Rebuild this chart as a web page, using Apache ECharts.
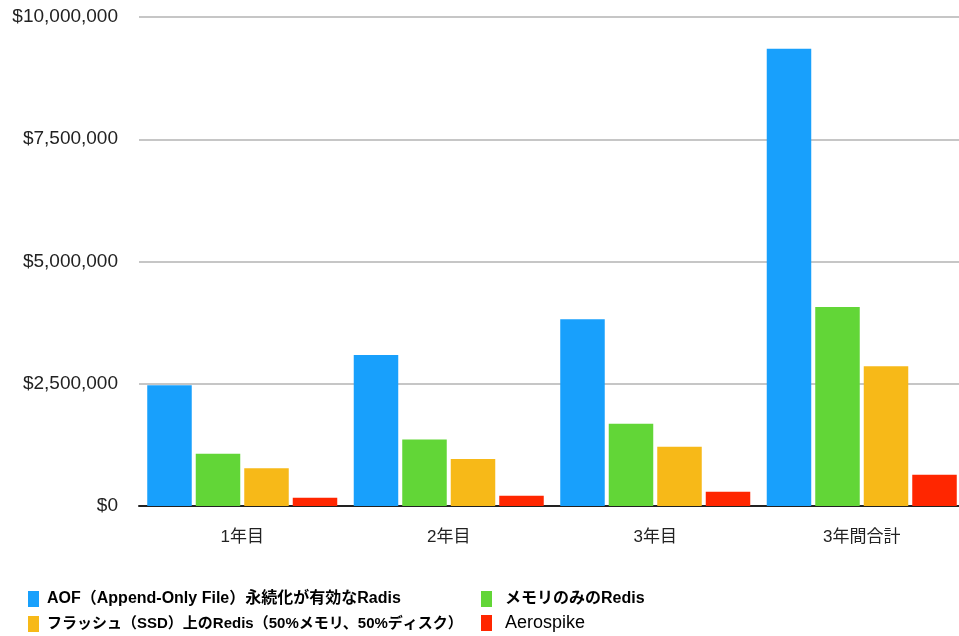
<!DOCTYPE html>
<html>
<head>
<meta charset="utf-8">
<title>chart</title>
<script src="https://cdn.jsdelivr.net/npm/echarts@6/dist/echarts.min.js"></script>
<style>
html, body { margin: 0; padding: 0; background: #fff; }
#main { width: 959px; height: 636px; }
</style>
</head>
<body>
<div id="main"></div>
<script>
// カテゴリ
var categories = ['1年目', '2年目', '3年目', '3年間合計'];
// 各シリーズの値 (USD)
var aofRedis = [2470000, 3090000, 3820000, 9350000];
var memRedis = [1070000, 1360000, 1680000, 4070000];
var flashRedis = [770000, 960000, 1210000, 2860000];
var aerospike = [170000, 210000, 290000, 640000];
var yTicks = [0, 2500000, 5000000, 7500000, 10000000];

var names = [
    'AOF（Append-Only File）永続化が有効なRadis',
    'メモリのみのRedis',
    'フラッシュ（SSD）上のRedis（50%メモリ、50%ディスク）',
    'Aerospike'
];
var colors = ['#18a0fc', '#62d637', '#f7b918', '#ff2600'];

var font = '"Liberation Sans", "Noto Sans CJK JP", sans-serif';

function money(v) {
    return '$' + v.toString().replace(/\B(?=(\d{3})+(?!\d))/g, ',');
}

function bar(name, data, color) {
    return {
        name: name,
        type: 'bar',
        barWidth: 44.5,
        barGap: '9%',
        itemStyle: { color: color },
        data: data
    };
}

// 凡例は1項目ずつ配置する
function legendItem(name, left, top, gap, size, bold) {
    return {
        left: left,
        top: top,
        itemWidth: 11,
        itemHeight: 16,
        itemGap: 9,
        icon: 'rect',
        textStyle: {
            fontFamily: font,
            fontSize: size,
            color: '#000',
            fontWeight: bold ? 'bold' : 'normal',
            padding: [0, 0, 0, gap - 5]
        },
        data: [name]
    };
}

var myCharts = echarts.init(document.getElementById('main'));
myCharts.setOption({
    animation: false,
    grid: { left: 139, width: 826, top: 17, bottom: 130, outerBoundsMode: 'none' },
    xAxis: {
        type: 'category',
        data: categories,
        axisLine: { lineStyle: { color: '#222', width: 2 } },
        axisTick: { show: false },
        axisLabel: { fontFamily: font, fontSize: 17, color: '#222', margin: 23 }
    },
    yAxis: {
        type: 'value',
        min: yTicks[0],
        max: yTicks[yTicks.length - 1],
        interval: 2500000,
        axisLine: { show: false },
        axisTick: { show: false },
        splitLine: { lineStyle: { color: '#c6c6c6', width: 2 } },
        axisLabel: { fontFamily: font, fontSize: 19, color: '#222', margin: 21, formatter: money }
    },
    legend: [
        legendItem(names[0], 23, 586, 8, 16, true),
        legendItem(names[1], 476, 586, 13, 16, true),
        legendItem(names[2], 23, 611, 8, 15, true),
        legendItem(names[3], 476, 609, 13, 18, false)
    ],
    series: [
        bar(names[0], aofRedis, colors[0]),
        bar(names[1], memRedis, colors[1]),
        bar(names[2], flashRedis, colors[2]),
        bar(names[3], aerospike, colors[3])
    ]
});
</script>
</body>
</html>
